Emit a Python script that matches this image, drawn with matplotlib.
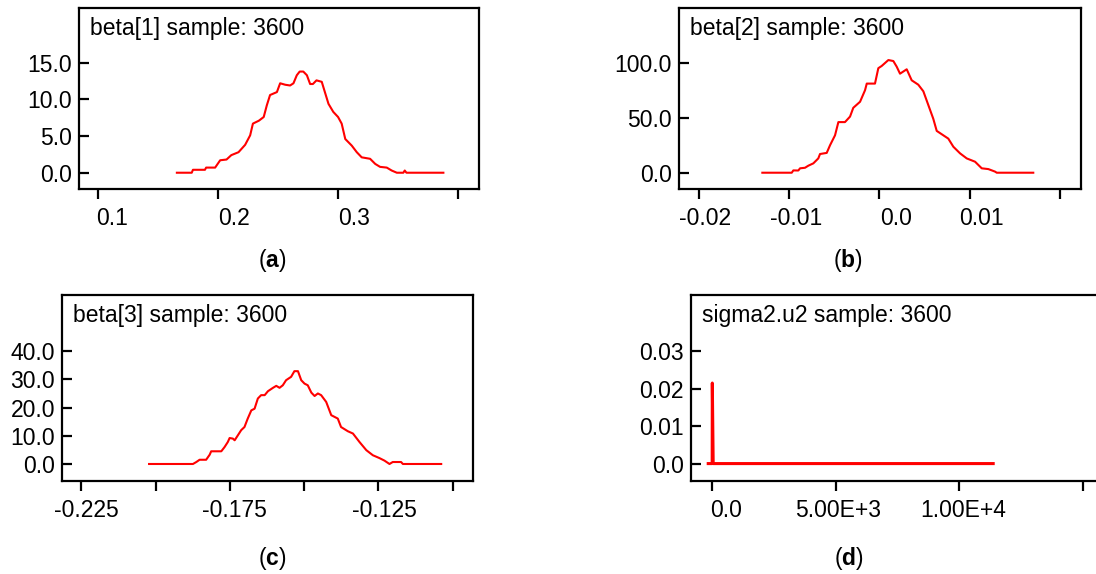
import numpy as np
import matplotlib
matplotlib.use("Agg")
import matplotlib.pyplot as plt

plt.rcParams['font.family'] = ['Liberation Sans', 'DejaVu Sans']
plt.rcParams['mathtext.fontset'] = 'custom'
plt.rcParams['mathtext.bf'] = 'Liberation Sans:bold'
plt.rcParams['mathtext.rm'] = 'Liberation Sans'

# --- densidades ---
beta1_x = [0.1656, 0.178, 0.179, 0.189, 0.190, 0.1975, 0.2017, 0.207, 0.211, 0.217,
           0.2225, 0.2267, 0.229, 0.234, 0.238, 0.2406, 0.2433, 0.249, 0.2517, 0.256,
           0.260, 0.2628, 0.2656, 0.268, 0.271, 0.274, 0.2767, 0.279, 0.282, 0.2864,
           0.289, 0.292, 0.296, 0.300, 0.303, 0.306, 0.3114, 0.3156, 0.3197, 0.3267,
           0.331, 0.335, 0.3406, 0.3447, 0.349, 0.3544, 0.3556, 0.357, 0.3878]
beta1_y = [0, 0, 0.4, 0.4, 0.7, 0.7, 1.7, 1.8, 2.4, 2.8,
           3.8, 5.1, 6.7, 7.1, 7.6, 9.2, 10.6, 11.0, 12.2, 12.0,
           11.9, 12.2, 13.3, 13.8, 13.8, 13.3, 12.1, 12.1, 12.6, 12.4,
           11.0, 9.4, 8.3, 7.6, 6.7, 4.6, 3.7, 2.8, 2.1, 1.9,
           1.2, 0.8, 0.7, 0.3, 0, 0, 0.3, 0, 0]

beta2_x = [-0.01294, -0.00969, -0.00951, -0.00896, -0.00877, -0.00822, -0.00785, -0.0073,
           -0.00675, -0.00656, -0.00582, -0.00545, -0.0049, -0.00453, -0.0038, -0.00324,
           -0.00288, -0.00213, -0.00158, -0.00139, -0.00048, -0.00011, 0.00026, 0.001,
           0.00155, 0.00192, 0.00229, 0.00266, 0.00303, 0.00358, 0.00431, 0.00487,
           0.00542, 0.00597, 0.00635, 0.00708, 0.00763, 0.00819, 0.00893, 0.00967,
           0.01059, 0.01133, 0.01206, 0.0128, 0.01299, 0.01703]
beta2_y = [0, 0, 2.1, 2.0, 4.0, 4.5, 6.4, 8.5,
           13, 17, 18, 25, 34, 46, 46, 51,
           59, 64.5, 75, 81, 81, 95, 97, 102.4,
           101.5, 96.4, 90, 92, 94, 84, 80, 74,
           61.5, 49, 38, 34, 31, 23.6, 17.6, 13,
           10, 4, 3.3, 1, 0, 0]

beta3_x = [-0.2022, -0.18744, -0.1863, -0.1852, -0.183, -0.1818, -0.1813, -0.1779, -0.1768,
           -0.1757, -0.1751, -0.174, -0.1734, -0.1723, -0.1712, -0.1701, -0.169, -0.1678,
           -0.1667, -0.1656, -0.1645, -0.1633, -0.1622, -0.1605, -0.1594, -0.1583, -0.1572,
           -0.1561, -0.1544, -0.1533, -0.1521, -0.151, -0.1499, -0.1488, -0.1476, -0.1465,
           -0.1454, -0.1443, -0.1426, -0.1409, -0.1387, -0.1376, -0.1353, -0.1336, -0.1314,
           -0.1291, -0.1269, -0.1247, -0.123, -0.1213, -0.1202, -0.1174, -0.1168, -0.1039]
beta3_y = [0, 0, 0.7, 1.5, 1.5, 3.3, 4.5, 4.5, 6.0,
           7.8, 9.2, 9.0, 8.4, 10.2, 12.0, 13.1, 16.1, 19.0,
           19.6, 23.2, 24.4, 24.4, 25.8, 27.0, 27.7, 27.0, 27.9,
           29.7, 30.9, 32.9, 32.9, 29.7, 28.5, 27.9, 25.3, 24.1,
           25.0, 24.4, 22.0, 17.3, 16.1, 13.1, 11.6, 10.8, 7.8,
           4.9, 3.1, 2.1, 1.2, 0, 0.7, 0.7, 0, 0]

sigma_x = [-140, 20, 25, 60, 11360]
sigma_y = [0, 0, 0.0215, 0, 0]

titulos = ['beta[1] sample: 3600', 'beta[2] sample: 3600',
           'beta[3] sample: 3600', 'sigma2.u2 sample: 3600']
legendas = ['a', 'b', 'c', 'd']

xticks = [[0.1, 0.2, 0.3, 0.4],
          [-0.02, -0.01, 0.0, 0.01, 0.02],
          [-0.225, -0.2, -0.175, -0.15, -0.125, -0.1],
          [0, 5000, 10000, 15000]]
xlabels = [['0.1', '0.2', '0.3', ''],
           ['-0.02', '-0.01', '0.0', '0.01', ''],
           ['-0.225', '', '-0.175', '', '-0.125', ''],
           ['0.0', '5.00E+3', '1.00E+4', '']]
yticks = [[0, 5, 10, 15], [0, 50, 100], [0, 10, 20, 30, 40], [0, 0.01, 0.02, 0.03]]
ylabels = [['0.0', '5.0', '10.0', '15.0'], ['0.0', '50.0', '100.0'],
           ['0.0', '10.0', '20.0', '30.0', '40.0'], ['0.0', '0.01', '0.02', '0.03']]

W, H = 1096, 574
fig = plt.figure(figsize=(W / 100, H / 100), dpi=100)

# caixas em pixels: (x0, x1, topo, base)
caixas = [(79, 479, 8, 189), (679, 1081, 8, 189), (62, 473, 295, 481), (691, 1105, 295, 481)]
xlims = [(0.084, 0.4175), (-0.02216, 0.02231), (-0.2315, -0.0932), (-835, 15872)]
ylims = [(-2.22, 22.47), (-14.8, 149.7), (-6.03, 59.9), (-0.00465, 0.045)]
deslocs = [[14, 16, 15.5, 0], [7, 7.4, 16.5, 12, 0], [5.3, 0, 5, 0, 5.7, 0], [14.6, 2.8, 3.7, 0]]
larguras = [1.5, 1.5, 1.5, 2.2]
pos_legenda = [(272.5, 260), (848, 260), (272.5, 558), (849, 559)]

dados = [(beta1_x, beta1_y), (beta2_x, beta2_y), (beta3_x, beta3_y), (sigma_x, sigma_y)]

fs = 16.5
for i, (xs, ys) in enumerate(dados):
    x0, x1, t, b = caixas[i]
    ax = fig.add_axes([x0 / W, 1 - b / H, (x1 - x0) / W, (b - t) / H])
    ax.plot(xs, ys, color='#ff0000', lw=larguras[i])
    ax.set_xlim(*xlims[i])
    ax.set_ylim(*ylims[i])
    for s in ax.spines.values():
        s.set_linewidth(1.6)
    ax.set_yticks(yticks[i])
    ax.set_yticklabels(ylabels[i], fontsize=fs)
    ax.tick_params(axis='y', direction='in', length=7, width=1.6, pad=5)
    ax.set_xticks(xticks[i])
    ax.set_xticklabels([])
    ax.tick_params(axis='x', direction='out', length=7.5, width=1.6)
    for xv, lab, dx in zip(xticks[i], xlabels[i], deslocs[i]):
        if lab:
            ax.annotate(lab, xy=(xv, 0), xycoords=('data', 'axes fraction'),
                        xytext=(dx, -18), textcoords='offset pixels',
                        ha='center', va='top', fontsize=fs, annotation_clip=False)
    ax.annotate(titulos[i], xy=(0, 1), xycoords='axes fraction',
                xytext=(11, -9), textcoords='offset pixels',
                ha='left', va='top', fontsize=fs)
    px, py = pos_legenda[i]
    fig.text(px / W, 1 - py / H, '($\\mathbf{' + legendas[i] + '}$)',
             ha='center', va='center', fontsize=fs)

fig.savefig('out.png', dpi=100)
